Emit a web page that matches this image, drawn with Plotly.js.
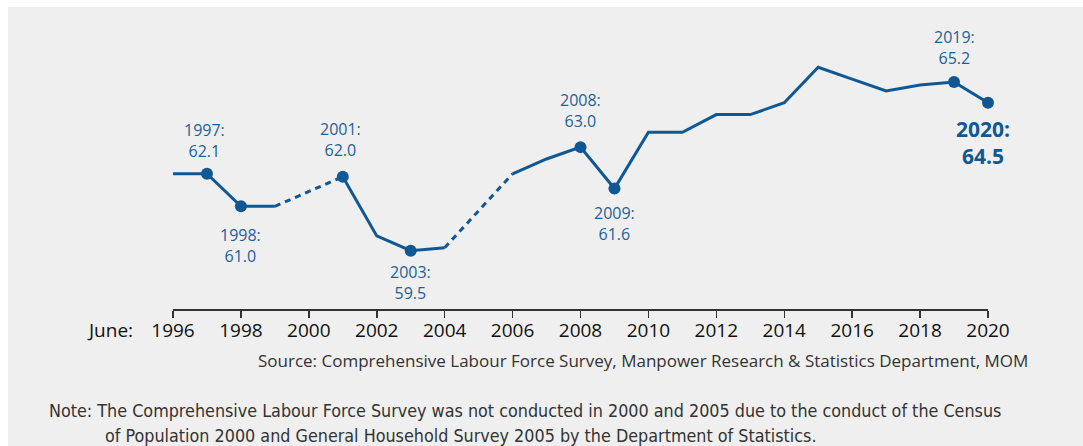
<!DOCTYPE html>
<html>
<head>
<meta charset="utf-8">
<script src="https://cdn.plot.ly/plotly-3.0.1.min.js"></script>
<style>
  html, body { margin: 0; padding: 0; background: #ffffff; }
  #chart { position: absolute; left: 8px; top: 7px; width: 1075px; height: 439px; }
</style>
</head>
<body>
<div id="chart"></div>
<script>
// ---- data ----
const years = [1996, 1997, 1998, 1999, 2001, 2002, 2003, 2004, 2006, 2007, 2008, 2009, 2010, 2011, 2012, 2013, 2014, 2015, 2016, 2017, 2018, 2019, 2020];
const rate  = [62.1, 62.1, 61.0, 61.0, 62.0, 60.0, 59.5, 59.6, 62.1, 62.6, 63.0, 61.6, 63.5, 63.5, 64.1, 64.1, 64.5, 65.7, 65.3, 64.9, 65.1, 65.2, 64.5];
const highlightYears = [1997, 1998, 2001, 2003, 2008, 2009, 2019, 2020];
const tickYears = [1996, 1998, 2000, 2002, 2004, 2006, 2008, 2010, 2012, 2014, 2016, 2018, 2020];
const tickPrefix = 'June:';
const sourceText = 'Source: Comprehensive Labour Force Survey, Manpower Research &amp; Statistics Department, MOM';
const noteLine1 = 'Note: The Comprehensive Labour Force Survey was not conducted in 2000 and 2005 due to the conduct of the Census';
const noteLine2 = 'of Population 2000 and General Household Survey 2005 by the Department of Statistics.';

// ---- label placement (style) ----
const labelPlacement = {
  1997: {side: 'above', shift: 10, dx: -2},
  1998: {side: 'below', shift: -16},
  2001: {side: 'above', shift: 14, dx: -2},
  2003: {side: 'below', shift: -8},
  2008: {side: 'above', shift: 13},
  2009: {side: 'below', shift: -11},
  2019: {side: 'above', shift: 11},
  2020: {side: 'below', shift: -10, bold: true, dx: -5}
};

const blue = '#0f5894';
const labelBlue = '#1d5f99';

// solid segments with gaps where survey missing
const solidX = [], solidY = [];
const dashTraces = [];
for (let i = 0; i < years.length; i++) {
  if (i > 0 && years[i] - years[i - 1] > 1) {
    solidX.push(null); solidY.push(null);
    dashTraces.push({
      x: [years[i - 1], years[i]], y: [rate[i - 1], rate[i]],
      type: 'scatter', mode: 'lines', cliponaxis: false, hoverinfo: 'skip',
      line: {color: blue, width: 3, dash: '6px,5px'}
    });
  }
  solidX.push(years[i]); solidY.push(rate[i]);
}

const hx = highlightYears;
const hy = highlightYears.map(y => rate[years.indexOf(y)]);

const traces = [
  {x: solidX, y: solidY, type: 'scatter', mode: 'lines', connectgaps: false, cliponaxis: false,
   line: {color: blue, width: 3}, hoverinfo: 'skip'},
  ...dashTraces,
  {x: hx, y: hy, type: 'scatter', mode: 'markers', cliponaxis: false,
   marker: {color: blue, size: 12}, hoverinfo: 'skip'}
];

const annotations = hx.map((yr, i) => {
  const p = labelPlacement[yr];
  const val = hy[i].toFixed(1);
  return {
    x: yr, y: hy[i], xref: 'x', yref: 'y', showarrow: false,
    text: p.bold ? `<b>${yr}:<br>${val}</b>` : `${yr}:<br>${val}`,
    yanchor: p.side === 'above' ? 'bottom' : 'top',
    xanchor: 'center',
    yshift: p.shift, xshift: p.dx || 0,
    font: {family: 'Open Sans, sans-serif', size: p.bold ? 21 : 16, color: p.bold ? blue : labelBlue}
  };
});

annotations.push(
  {text: tickPrefix, xref: 'paper', yref: 'paper', x: -0.047, y: -0.078, xanchor: 'right', yanchor: 'middle',
   showarrow: false, font: {family: 'Open Sans, sans-serif', size: 19, color: '#111'}},
  {text: sourceText, xref: 'paper', yref: 'paper', x: 1.0515, y: -0.19, xanchor: 'right', yanchor: 'middle',
   showarrow: false, font: {family: 'Open Sans, sans-serif', size: 17, color: '#333'}},
  {text: noteLine1, xref: 'paper', yref: 'paper', x: -0.1546, y: -0.3755, xanchor: 'left', yanchor: 'middle',
   showarrow: false, font: {family: 'Liberation Sans Narrow, DejaVu Sans Condensed, Open Sans, sans-serif', size: 17.8, color: '#333'}},
  {text: noteLine2, xref: 'paper', yref: 'paper', x: -0.0859, y: -0.472, xanchor: 'left', yanchor: 'middle',
   showarrow: false, font: {family: 'Liberation Sans Narrow, DejaVu Sans Condensed, Open Sans, sans-serif', size: 17.8, color: '#333'}}
);

const layout = {
  width: 1075, height: 439,
  margin: {l: 165, r: 95, t: 33, b: 137},
  paper_bgcolor: '#efefef', plot_bgcolor: 'rgba(0,0,0,0)',
  showlegend: false,
  xaxis: {
    range: [1996, 2020], tickvals: tickYears, ticktext: tickYears.map(String),
    ticks: 'outside', ticklen: 7, tickwidth: 1.5, tickcolor: '#333',
    showline: true, linecolor: '#333', linewidth: 1.5, ticklabelstandoff: -3,
    showgrid: false, zeroline: false, fixedrange: true,
    tickfont: {family: 'Open Sans, sans-serif', size: 19, color: '#111'}
  },
  yaxis: {range: [57.53, 66.62], visible: false, fixedrange: true},
  annotations: annotations
};

Plotly.newPlot('chart', traces, layout, {displayModeBar: false, staticPlot: true});
</script>
</body>
</html>
